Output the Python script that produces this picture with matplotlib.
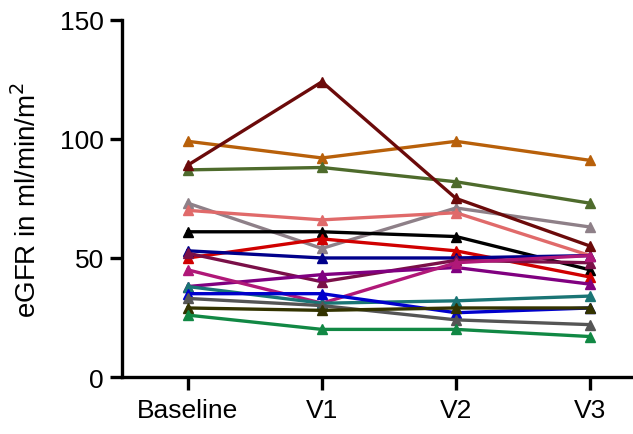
import numpy as np
import matplotlib
matplotlib.use("Agg")
import matplotlib.pyplot as plt

plt.rcParams['font.family'] = ['Liberation Sans', 'DejaVu Sans']

visits = ["Baseline", "V1", "V2", "V3"]

# eGFR per patient
maroon = [89, 124, 75, 55]
orange = [99, 92, 99, 91]
olive = [87, 88, 82, 73]
gray = [73, 54, 71, 63]
salmon = [70, 66, 69, 51]
black = [61, 61, 59, 45]
red = [50, 58, 53, 42]
navy = [53, 50, 50, 51]
wine = [52, 40, 49, 48]
purple = [38, 43, 46, 39]
magenta = [45, 31, 48, 51]
teal = [38, 31, 32, 34]
blue = [35, 35, 27, 29]
darkgray = [33, 30, 24, 22]
darkolive = [29, 28, 29, 29]
green = [26, 20, 20, 17]

series = [
    (orange, "#B8600A"),
    (olive, "#4E6B2C"),
    (gray, "#8E8088"),
    (salmon, "#E06A6A"),
    (black, "#000000"),
    (red, "#D00000"),
    (navy, "#00008B"),
    (wine, "#7A1048"),
    (purple, "#800080"),
    (magenta, "#B01878"),
    (teal, "#1A7575"),
    (blue, "#0000CC"),
    (darkgray, "#555555"),
    (darkolive, "#333300"),
    (green, "#118844"),
    (maroon, "#6B0A0A"),
]

fig = plt.figure(figsize=(6.33, 4.35), dpi=100)
ax = fig.add_axes([0.193, 0.131, 0.807, 0.821])

x = np.arange(len(visits))
for vals, col in series:
    ax.plot(x, vals, color=col, lw=2.4, marker="^", ms=7.5, clip_on=False)

ax.set_xlim(-0.49, 3.32)
ax.set_ylim(0, 150)
ax.set_yticks([0, 50, 100, 150])
ax.set_xticks(x)
ax.set_xticklabels(visits)
ax.set_ylabel("eGFR in ml/min/m$^2$", fontsize=20)
ax.yaxis.set_label_coords(-0.157, 0.5)

for s in ["top", "right"]:
    ax.spines[s].set_visible(False)
for s in ["left", "bottom"]:
    ax.spines[s].set_linewidth(2.4)
ax.tick_params(width=2.4, length=9, labelsize=19, colors="black")
ax.tick_params(axis="y", pad=4)
ax.tick_params(axis="x", pad=6)

fig.savefig("out.png", dpi=100)
